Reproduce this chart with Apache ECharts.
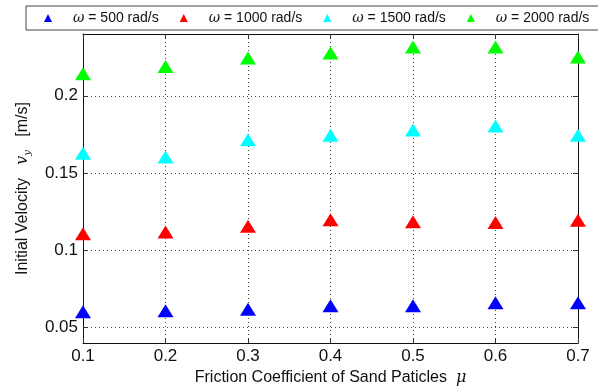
<!DOCTYPE html>
<html>
<head>
<meta charset="utf-8">
<script src="https://cdn.jsdelivr.net/npm/echarts@6/dist/echarts.min.js"></script>
<style>
  html, body { margin: 0; padding: 0; background: #fff; }
  #chart { width: 598px; height: 391px; }
</style>
</head>
<body>
<div id="chart"></div>
<script>
// datos
const frictionValues = [0.1, 0.2, 0.3, 0.4, 0.5, 0.6, 0.7];
const seriesNames = ['500', '1000', '1500', '2000'];
const seriesColors = ['#0000ff', '#ff0000', '#00ffff', '#00ff00'];
const vel500 = [0.0603, 0.0608, 0.0619, 0.0641, 0.0641, 0.0660, 0.0660];
const vel1000 = [0.1107, 0.1119, 0.1156, 0.1197, 0.1184, 0.1180, 0.1194];
const vel1500 = [0.1628, 0.1604, 0.1715, 0.1744, 0.1778, 0.1805, 0.1745];
const vel2000 = [0.2143, 0.2190, 0.2245, 0.2277, 0.2316, 0.2316, 0.2251];
const yTickValues = [0.05, 0.1, 0.15, 0.2];

const allSeries = [vel500, vel1000, vel1500, vel2000];
const FONT = 'Liberation Sans';

const chart = echarts.init(document.getElementById('chart'));

const gridLine = { show: true, lineStyle: { color: '#444', type: [1, 3], width: 1 } };
const axisLine = { show: true, onZero: false, lineStyle: { color: '#111', width: 1 } };
const tickStyle = { show: true, inside: true, length: 5, lineStyle: { color: '#333' } };

const option = {
    animation: false,
    textStyle: { fontFamily: FONT },
    legend: {
        left: 26,
        top: 6,
        width: 620,
        padding: [5, 30, 5, 18],
        itemWidth: 8,
        itemHeight: 8,
        itemGap: 21,
        borderColor: '#444',
        borderWidth: 1,
        borderRadius: 0,
        icon: 'triangle',
        textStyle: {
            fontSize: 14,
            color: '#111',
            rich: {
                w: { fontStyle: 'italic', fontSize: 14, fontFamily: 'DejaVu Serif', padding: [0, 0, 0, 16] },
                t: { fontSize: 14, color: '#111' }
            }
        },
        formatter: function (name) {
            return '{w|ω}{t| = ' + name + ' rad/s}';
        }
    },
    grid: { left: 83, right: 20, top: 34, bottom: 48 },
    xAxis: [{
        type: 'value',
        min: 0.1,
        max: 0.7,
        interval: 0.1,
        name: 'Friction Coefficient of Sand Paticles  {m|μ}',
        nameLocation: 'middle',
        nameGap: 27,
        nameTextStyle: {
            fontSize: 16,
            color: '#111',
            rich: { m: { fontStyle: 'italic', fontSize: 16, fontFamily: 'DejaVu Serif' } }
        },
        axisLine: axisLine,
        axisTick: tickStyle,
        axisLabel: { fontSize: 17, color: '#111', margin: 5, formatter: v => v.toFixed(1) },
        splitLine: gridLine
    }, {
        type: 'value',
        position: 'top',
        min: 0.1,
        max: 0.7,
        interval: 0.1,
        axisLine: axisLine,
        axisTick: tickStyle,
        axisLabel: { show: false },
        splitLine: { show: false }
    }],
    yAxis: [{
        type: 'value',
        min: 0.04,
        max: 0.24,
        name: 'Initial Velocity   {v|v}{s|y}   [m/s]',
        nameLocation: 'middle',
        nameGap: 51,
        nameTextStyle: {
            fontSize: 16,
            color: '#111',
            rich: {
                v: { fontStyle: 'italic', fontSize: 16, fontFamily: 'DejaVu Serif' },
                s: { fontStyle: 'italic', fontSize: 10, fontFamily: 'DejaVu Serif', verticalAlign: 'bottom', padding: [8, 0, 0, 0] }
            }
        },
        axisLine: axisLine,
        axisTick: Object.assign({}, tickStyle, { customValues: yTickValues }),
        axisLabel: { fontSize: 17, color: '#111', margin: 5, customValues: yTickValues, formatter: v => String(+v.toFixed(2)) },
        splitLine: gridLine
    }, {
        type: 'value',
        position: 'right',
        min: 0.04,
        max: 0.24,
        axisLine: axisLine,
        axisTick: Object.assign({}, tickStyle, { customValues: yTickValues }),
        axisLabel: { show: false, customValues: yTickValues },
        splitLine: { show: false }
    }],
    series: seriesNames.map((name, i) => ({
        name: name,
        type: 'scatter',
        symbol: 'triangle',
        symbolSize: [16, 13],
        clip: false,
        itemStyle: { color: seriesColors[i], opacity: 1 },
        data: frictionValues.map((x, j) => [x, allSeries[i][j]])
    }))
};

chart.setOption(option);
</script>
</body>
</html>
